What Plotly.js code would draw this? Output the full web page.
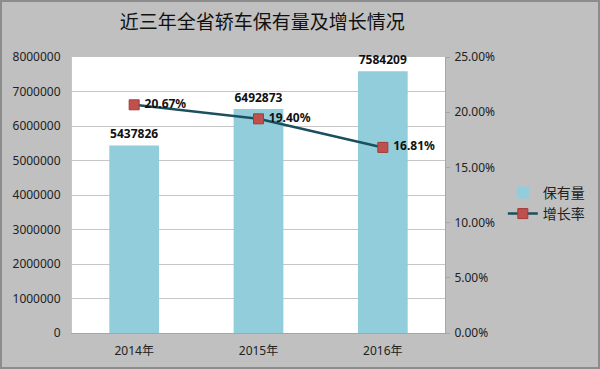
<!DOCTYPE html>
<html><head><meta charset="utf-8">
<script src="https://cdn.plot.ly/plotly-3.0.1.min.js"></script>
<style>html,body{margin:0;padding:0;background:#c0c0c0;}#chart{width:596px;height:365px;border:2px solid #8c8c8c;}</style>
</head><body><div id="chart"></div>
<script>
var years = ['2014年', '2015年', '2016年'];
var holdings = [5437826, 6492873, 7584209];
var growth = [0.2067, 0.1940, 0.1681];
var barName = '保有量';
var lineName = '增长率';

var FONT = 'Noto Sans, Noto Sans CJK SC, sans-serif';

var traces = [
  {
    type: 'bar', name: barName, x: years, y: holdings,
    marker: {color: '#92cddc'},
    width: 0.4,
    text: holdings.map(function(v){return '<b>' + v + '</b>';}),
    textposition: 'outside', cliponaxis: false,
    textfont: {family: FONT, size: 12, color: '#111'}
  },
  {
    type: 'scatter', mode: 'lines+markers+text', name: lineName, x: years, y: growth, yaxis: 'y2',
    line: {color: '#1c4f5e', width: 2.5},
    marker: {symbol: 'square', size: 10, color: '#c0504d', line: {color: '#a33b38', width: 1}},
    text: growth.map(function(v){return '<b>\u00a0' + (v*100).toFixed(2) + '%</b>';}),
    textposition: 'middle right', cliponaxis: false,
    textfont: {family: FONT, size: 12, color: '#111'}
  }
];

var layout = {
  width: 596, height: 365,
  margin: {l: 70, r: 153, t: 55, b: 34, autoexpand: false},
  paper_bgcolor: '#c0c0c0', plot_bgcolor: '#ffffff',
  font: {family: FONT, size: 12, color: '#222'},
  title: {text: '近三年全省轿车保有量及增长情况', font: {family: 'Noto Sans CJK SC, sans-serif', size: 19, color: '#111'}, xref: 'paper', x: 0.51, xanchor: 'center', y: 0.945, yanchor: 'middle'},
  showlegend: true,
  legend: {x: 1.155, y: 0.47, xanchor: 'left', yanchor: 'middle', bgcolor: 'rgba(0,0,0,0)', font: {family: FONT, size: 14, color: '#222'}, tracegroupgap: 2},
  xaxis: {type: 'category', showgrid: false, showline: true, linecolor: '#a6a6a6', linewidth: 1, mirror: false, ticks: '', tickfont: {size: 12}, ticklabelstandoff: 7},
  yaxis: {range: [0, 8000000], dtick: 1000000, tickformat: 'd', showgrid: true, gridcolor: '#c6c6c6', gridwidth: 1, zeroline: false, showline: true, linecolor: '#c6c6c6', ticks: '', ticklabelstandoff: 8, tickfont: {size: 12}},
  yaxis2: {overlaying: 'y', side: 'right', range: [0, 0.25], dtick: 0.05, tickformat: '.2%', showgrid: false, zeroline: false, showline: true, linecolor: '#a6a6a6', ticks: 'outside', ticklen: 4, tickcolor: '#a6a6a6', tickfont: {size: 12}, ticklabelstandoff: 2},
  bargap: 0.6
};

Plotly.newPlot('chart', traces, layout, {displayModeBar: false, staticPlot: true});
</script>
</body></html>
